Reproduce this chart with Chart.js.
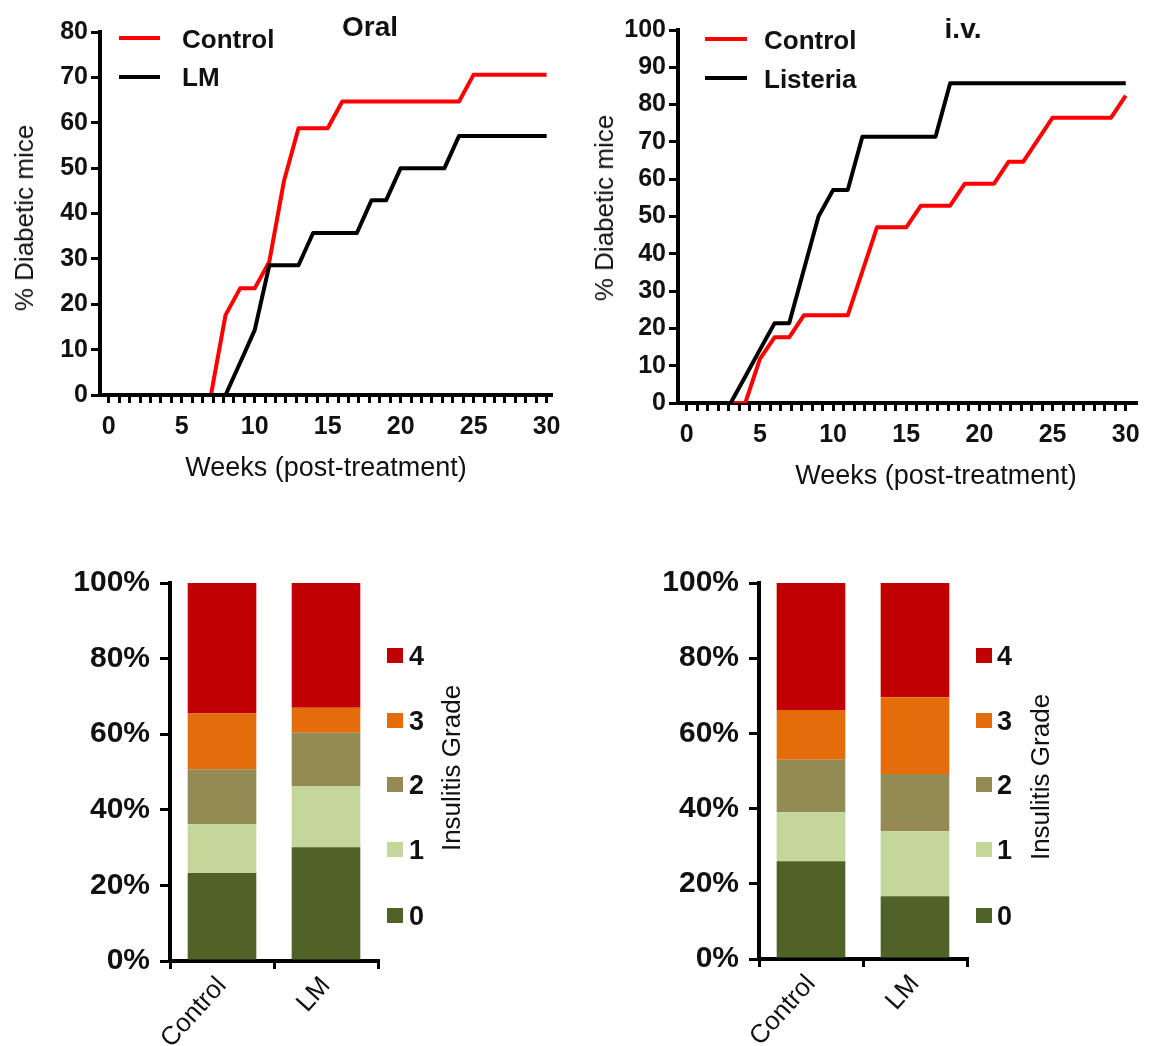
<!DOCTYPE html>
<html>
<head>
<meta charset="utf-8">
<script src="https://cdn.jsdelivr.net/npm/chart.js@4.4.1/dist/chart.umd.min.js"></script>
<style>
  html, body { margin: 0; padding: 0; background: #fff; }
  #fig { position: relative; width: 1149px; height: 1046px; overflow: hidden;
         font-family: 'Liberation Sans', Arial, sans-serif; color: #111; }
  #fig canvas { position: absolute; }
  .txt { position: absolute; white-space: nowrap; line-height: 1; transform: translate(-50%, -50%); }
  .vert { transform: translate(-50%, -50%) rotate(-90deg); }
  .bold { font-weight: bold; }
  .key { position: absolute; height: 4px; }
  .sq { position: absolute; width: 16px; height: 15px; }
</style>
</head>
<body>
<div id="fig">
  <canvas id="oralLine" width="575" height="500" style="left:0;top:0"></canvas>
  <canvas id="ivLine" width="569" height="500" style="left:580px;top:0"></canvas>
  <canvas id="oralBar" width="575" height="506" style="left:0;top:540px"></canvas>
  <canvas id="ivBar" width="569" height="506" style="left:580px;top:540px"></canvas>
</div>
<script>
'use strict';

// ── Data ─────────────────────────────────────────────────────
const weeks = [0, 1, 2, 3, 4, 5, 6, 7, 8, 9, 10, 11, 12, 13, 14, 15, 16, 17, 18, 19, 20,
               21, 22, 23, 24, 25, 26, 27, 28, 29, 30];

// Oral route, % diabetic mice per week
const oralControl = [0, 0, 0, 0, 0, 0, 0, 0, 17.6, 23.5, 23.5, 29.4, 47.1, 58.8, 58.8, 58.8,
                     64.7, 64.7, 64.7, 64.7, 64.7, 64.7, 64.7, 64.7, 64.7, 70.6, 70.6, 70.6, 70.6, 70.6, 70.6];
const oralLM      = [0, 0, 0, 0, 0, 0, 0, 0, 0, 7.1, 14.3, 28.6, 28.6, 28.6, 35.7, 35.7,
                     35.7, 35.7, 42.9, 42.9, 50, 50, 50, 50, 57.1, 57.1, 57.1, 57.1, 57.1, 57.1, 57.1];

// i.v. route
const ivControl  = [0, 0, 0, 0, 0, 11.8, 17.6, 17.6, 23.5, 23.5, 23.5, 23.5, 35.3, 47.1, 47.1, 47.1,
                    52.9, 52.9, 52.9, 58.8, 58.8, 58.8, 64.7, 64.7, 70.6, 76.5, 76.5, 76.5, 76.5, 76.5, 82.4];
const ivListeria = [0, 0, 0, 0, 7.1, 14.3, 21.4, 21.4, 35.7, 50, 57.1, 57.1, 71.4, 71.4, 71.4, 71.4,
                    71.4, 71.4, 85.7, 85.7, 85.7, 85.7, 85.7, 85.7, 85.7, 85.7, 85.7, 85.7, 85.7, 85.7, 85.7];

const weekTickLabels = [0, 5, 10, 15, 20, 25, 30];
const minorPerMajor  = 7;     // minor ticks every 5 days (weeks axis)

// Insulitis grade shares (%), grade 0 → 4
const gradeLabels       = ['0', '1', '2', '3', '4'];
const groupLabels       = ['Control', 'LM'];
const oralControlGrades = [23.3, 12.9, 14.5, 14.8, 34.5];
const oralLMGrades      = [30.1, 16.2, 14.1, 6.6, 33.0];
const ivControlGrades   = [26.0, 13.0, 14.0, 13.2, 33.8];
const ivLMGrades        = [16.7, 17.3, 15.2, 20.4, 30.4];
const pctTicks          = [0, 20, 40, 60, 80, 100];

const gradeColors = ['#4f6228', '#c4d79b', '#948a54', '#e46c0a', '#c00000'];
const RED = '#ff0000';
const BLACK = '#000000';
const FONT = "'Liberation Sans', Arial, sans-serif";

// ── Helpers ──────────────────────────────────────────────────
const fig = document.getElementById('fig');

function addText(text, x, y, size, opts = {}) {
  const el = document.createElement('div');
  el.className = 'txt' + (opts.bold ? ' bold' : '') + (opts.vertical ? ' vert' : '');
  el.style.left = x + 'px';
  el.style.top = y + 'px';
  el.style.fontSize = size + 'px';
  if (opts.left) { el.style.transform = 'translate(0, -50%)'; }
  el.textContent = text;
  fig.appendChild(el);
}

function addLineKey(color, x, y, w) {
  const el = document.createElement('div');
  el.className = 'key';
  el.style.left = x + 'px';
  el.style.top = (y - 2) + 'px';
  el.style.width = w + 'px';
  el.style.background = color;
  fig.appendChild(el);
}

function addSquare(color, x, y) {
  const el = document.createElement('div');
  el.className = 'sq';
  el.style.left = x + 'px';
  el.style.top = (y - 7) + 'px';
  el.style.background = color;
  fig.appendChild(el);
}

function weekTicks() {
  const out = [];
  const step = weekTickLabels[1] - weekTickLabels[0];
  for (let i = 0; i < weekTickLabels.length; i++) {
    const base = weekTickLabels[i];
    out.push({ value: base });
    if (i < weekTickLabels.length - 1) {
      for (let k = 1; k < minorPerMajor; k++) out.push({ value: base + step * k / minorPerMajor });
    }
  }
  return out;
}

function lineChart(id, series, yMax, xMax, yWidth, pad) {
  const tickFont = { family: FONT, size: 25, weight: 'bold' };
  new Chart(document.getElementById(id), {
    type: 'line',
    data: {
      labels: weeks,
      datasets: series.map(s => ({
        data: weeks.map((w, i) => ({ x: w, y: s.values[i] })),
        borderColor: s.color,
        borderWidth: 4,
        pointRadius: 0,
        tension: 0,
        borderJoinStyle: 'round',
      }))
    },
    options: {
      responsive: false,
      animation: false,
      layout: { padding: pad },
      plugins: { legend: { display: false }, tooltip: { enabled: false } },
      scales: {
        x: {
          type: 'linear', min: -0.6, max: xMax,
          afterBuildTicks: ax => { ax.ticks = weekTicks(); },
          afterFit: ax => { ax.height = 40; },
          grid: { drawOnChartArea: false, tickLength: 8, color: BLACK, lineWidth: 3 },
          border: { color: BLACK, width: 4 },
          ticks: {
            autoSkip: false, maxRotation: 0, padding: 9, color: '#111', font: tickFont,
            callback: v => weekTickLabels.find(t => Math.abs(t - v) < 1e-6) ?? ''
          }
        },
        y: {
          min: 0, max: yMax,
          afterFit: ax => { ax.width = yWidth; },
          grid: { drawOnChartArea: false, tickLength: 9, color: BLACK, lineWidth: 3 },
          border: { color: BLACK, width: 4 },
          ticks: { stepSize: 10, padding: 3, color: '#111', font: tickFont }
        }
      }
    }
  });
}

function barChart(id, controlGrades, lmGrades, yWidth, xHeight, pad) {
  new Chart(document.getElementById(id), {
    type: 'bar',
    data: {
      labels: groupLabels,
      datasets: gradeLabels.map((g, i) => ({
        label: g,
        data: [controlGrades[i], lmGrades[i]],
        backgroundColor: gradeColors[i],
        borderWidth: 0,
        categoryPercentage: 1,
        barPercentage: 0.66,
      }))
    },
    options: {
      responsive: false,
      animation: false,
      layout: { padding: pad },
      plugins: { legend: { display: false }, tooltip: { enabled: false } },
      scales: {
        x: {
          stacked: true,
          afterFit: ax => { ax.height = xHeight; },
          grid: { drawOnChartArea: false, tickLength: 8, color: BLACK, lineWidth: 3, offset: true },
          border: { color: BLACK, width: 4 },
          ticks: {
            autoSkip: false, minRotation: 48, maxRotation: 48, padding: 2, color: '#111',
            font: { family: FONT, size: 26 }
          }
        },
        y: {
          stacked: true, min: 0, max: 100,
          afterFit: ax => { ax.width = yWidth; },
          afterBuildTicks: ax => { ax.ticks = pctTicks.map(v => ({ value: v })); },
          grid: { drawOnChartArea: false, tickLength: 10, color: BLACK, lineWidth: 3 },
          border: { color: BLACK, width: 4 },
          ticks: { padding: 10, color: '#111', font: { family: FONT, size: 30, weight: 'bold' },
                   callback: v => v + '%' }
        }
      }
    }
  });
}

// ── Top row: cumulative incidence ────────────────────────────
lineChart('oralLine',
  [{ values: oralLM, color: BLACK }, { values: oralControl, color: RED }],
  80, 30.3, 100, { top: 32, right: 24, bottom: 65, left: 0 });

lineChart('ivLine',
  [{ values: ivListeria, color: BLACK }, { values: ivControl, color: RED }],
  100, 30.7, 98, { top: 30, right: 13, bottom: 57, left: 0 });

// ── Bottom row: insulitis grades ─────────────────────────────
barChart('oralBar', oralControlGrades, oralLMGrades, 170, 85, { top: 43, right: 197, bottom: 0, left: 0 });
barChart('ivBar', ivControlGrades, ivLMGrades, 179, 87, { top: 43, right: 182, bottom: 0, left: 0 });

// ── Annotations ──────────────────────────────────────────────
addText('Oral', 370, 27, 28, { bold: true });
addText('i.v.', 963, 29, 28, { bold: true });

addLineKey(RED, 119, 38, 41);
addLineKey(BLACK, 119, 77, 41);
addText('Control', 182, 39, 26, { bold: true, left: true });
addText('LM', 182, 77, 26, { bold: true, left: true });

addLineKey(RED, 705, 39, 42);
addLineKey(BLACK, 705, 78, 42);
addText('Control', 764, 40, 26, { bold: true, left: true });
addText('Listeria', 764, 79, 26, { bold: true, left: true });

addText('% Diabetic mice', 24, 218, 26, { vertical: true });
addText('% Diabetic mice', 604, 208, 26, { vertical: true });
addText('Weeks (post-treatment)', 326, 467, 27);
addText('Weeks (post-treatment)', 936, 475, 27);

const keyRows = [915, 849, 784, 720, 655];   // grade 0 → 4, vertical centres
gradeLabels.forEach((g, i) => {
  addSquare(gradeColors[i], 387, keyRows[i]);
  addText(g, 409, keyRows[i] + 1, 27, { bold: true, left: true });
  addSquare(gradeColors[i], 976, keyRows[i]);
  addText(g, 997, keyRows[i] + 1, 27, { bold: true, left: true });
});
addText('Insulitis Grade', 451, 768, 26, { vertical: true });
addText('Insulitis Grade', 1040, 777, 26, { vertical: true });
</script>
</body>
</html>
